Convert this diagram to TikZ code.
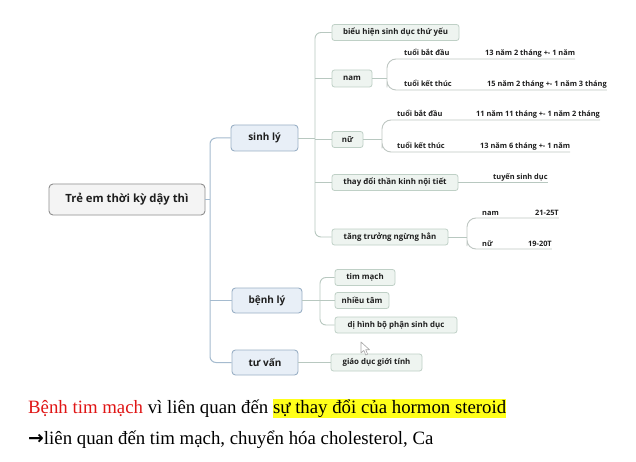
\documentclass[tikz,border=0pt]{standalone}
\usepackage{fontspec}
\setmainfont{Liberation Serif}
\newfontfamily\mapfont{Open Sans}
\newfontfamily\arrowfont{DejaVu Sans}
\usetikzlibrary{calc}
\definecolor{rootfill}{HTML}{F4F4F4}
\definecolor{rootdraw}{HTML}{8E8E8E}
\definecolor{mainfill}{HTML}{E8EFF7}
\definecolor{maindraw}{HTML}{9AB0C6}
\definecolor{subfill}{HTML}{EEF4F0}
\definecolor{subdraw}{HTML}{BFD0C6}
\definecolor{trunkline}{HTML}{A5BBCF}
\definecolor{subline}{HTML}{B8C8C0}
\definecolor{leafline}{HTML}{BFC7C3}
\definecolor{maptext}{HTML}{1E1E1E}
\definecolor{hlyellow}{HTML}{FFFF1A}
\definecolor{txtred}{HTML}{E01515}
\tikzset{
  rootbox/.style={draw=rootdraw, fill=rootfill, line width=0.9pt, rounded corners=4pt,
    inner sep=0pt, text=maptext, font=\mapfont\bfseries\fontsize{11.3}{13}\selectfont},
  mainbox/.style={draw=maindraw, fill=mainfill, line width=0.9pt, rounded corners=3.5pt,
    inner sep=0pt, minimum height=25pt, text=maptext, font=\mapfont\bfseries\fontsize{10}{12}\selectfont},
  subbox/.style={draw=subdraw, fill=subfill, line width=0.8pt, rounded corners=2.5pt,
    inner sep=0pt, minimum height=16pt, text=maptext, font=\mapfont\bfseries\fontsize{7.9}{9}\selectfont},
  leaf/.style={inner sep=0pt, anchor=base west, text=maptext, font=\mapfont\bfseries\fontsize{7.4}{8.5}\selectfont},
  trunk/.style={draw=trunkline, line width=1pt, rounded corners=6pt},
  subln/.style={draw=subline, line width=0.9pt, rounded corners=6pt},
  leafln/.style={draw=leafline, line width=0.9pt, rounded corners=9pt},
}
\begin{document}
\begin{tikzpicture}[x=1pt, y=-1pt]
\useasboundingbox (0,0) rectangle (636,462);
\fill[white] (0,0) rectangle (636,462);

% main nodes
\node[rootbox, minimum width=156pt, minimum height=31pt] (root) at (127,199.5) {Trẻ em thời kỳ dậy thì};
\node[mainbox, minimum width=67pt, minimum height=26pt] (sinhly) at (264.5,138) {sinh lý};
\node[mainbox, minimum width=70pt] (benhly) at (267,300.5) {bệnh lý};
\node[mainbox, minimum width=66pt] (tuvan) at (265,362.5) {tư vấn};

% sinh ly children
\node[subbox, minimum width=127pt] (bieuhien) at (395.5,32.5) {biểu hiện sinh dục thứ yếu};
\node[subbox, minimum width=40pt, minimum height=17pt] (nam) at (352,78.5) {nam};
\node[subbox, minimum width=31pt] (nu) at (347.5,139.5) {nữ};
\node[subbox, minimum width=126pt] (thaydoi) at (395,182.5) {thay đổi thần kinh nội tiết};
\node[subbox, minimum width=116pt] (tangtruong) at (390,237) {tăng trưởng ngừng hẳn};

% benh ly children
\node[subbox, minimum width=60pt] (timmach) at (365,277.5) {tim mạch};
\node[subbox, minimum width=54pt] (nhieutam) at (362,300.5) {nhiều tâm};
\node[subbox, minimum width=122pt] (dihinh) at (396,325) {dị hình bộ phận sinh dục};

% tu van child
\node[subbox, minimum width=91pt, minimum height=17pt] (giaoduc) at (376.5,362.5) {giáo dục giới tính};

% trunk
\coordinate (tr) at (210,199.5);
\draw[trunk] (root.east) -- (tr);
\draw[trunk] (sinhly.west) -| (tr) |- (tuvan.west);
\draw[trunk] (tr |- benhly.west) -- (benhly.west);

% sinh ly branch
\coordinate (sj) at (315,138);
\draw[subln] (sinhly.east) -- (sj);
\draw[subln] (bieuhien.west) -| (sj) |- (tangtruong.west);
\draw[subln] (sj |- nam.west) -- (nam.west);
\draw[subln] (sj |- nu.west) -- (nu.west);
\draw[subln] (sj |- thaydoi.west) -- (thaydoi.west);

% nam leaves
\node[leaf] (nmbd) at (404,56) {tuổi bắt đầu};
\node[leaf] (nmbdv) at (485,56) {13 năm 2 tháng +- 1 năm};
\node[leaf] (nmkt) at (404,87) {tuổi kết thúc};
\node[leaf] (nmktv) at (487,87) {15 năm 2 tháng +- 1 năm 3 tháng};
\coordinate (nj) at (387,78.5);
\draw[subln] (nam.east) -- (nj);
\draw[leafln] ([yshift=-3pt]nmbdv.base east) -| (nj) |- ([yshift=-3pt]nmktv.base east);

% nu leaves
\node[leaf] (nubd) at (397,117) {tuổi bắt đầu};
\node[leaf] (nubdv) at (476,117) {11 năm 11 tháng +- 1 năm 2 tháng};
\node[leaf] (nukt) at (397,149) {tuổi kết thúc};
\node[leaf] (nuktv) at (480,149) {13 năm 6 tháng +- 1 năm};
\coordinate (uj) at (382,139.5);
\draw[subln] (nu.east) -- (uj);
\draw[leafln] ([yshift=-3pt]nubdv.base east) -| (uj) |- ([yshift=-3pt]nuktv.base east);

% thay doi leaf
\node[leaf] (tsd) at (493,179.5) {tuyến sinh dục};
\draw[subln] (thaydoi.east) -- ([yshift=-3pt]tsd.base east);

% tang truong leaves
\node[leaf] (ttnam) at (482,215) {nam};
\node[leaf] (ttnamv) at (535,215) {21-25T};
\node[leaf] (ttnu) at (482,246) {nữ};
\node[leaf] (ttnuv) at (528,246) {19-20T};
\coordinate (tj) at (467,237);
\draw[subln] (tangtruong.east) -- (tj);
\draw[leafln] ([yshift=-3pt]ttnamv.base east) -| (tj) |- ([yshift=-3pt]ttnuv.base east);

% benh ly branch
\coordinate (bj) at (320,300.5);
\draw[subln] (benhly.east) -- (bj);
\draw[subln] (timmach.west) -| (bj) |- (dihinh.west);
\draw[subln] (bj) -- (nhieutam.west);

% tu van branch
\draw[subln] (tuvan.east) -- (giaoduc.west);

% mouse pointer
\draw[gray!70, fill=white, line width=0.6pt, line join=round]
  (361,342) -- (361,353) -- (363.8,350.4) -- (365.8,355) -- (367.6,354.2) -- (365.7,349.7) -- (369.5,349.7) -- cycle;

% bottom text
\node[anchor=base west, inner sep=0pt, font=\fontsize{18.8}{22}\selectfont] (line1) at (28,413)
  {\textcolor{txtred}{Bệnh tim mạch} vì liên quan đến {\setlength{\fboxsep}{0pt}\colorbox{hlyellow}{\rule[-5pt]{0pt}{19pt}sự thay đổi của hormon steroid}}};
\node[anchor=base west, inner sep=0pt, font=\fontsize{18.8}{22}\selectfont] (line2) at (28,444)
  {{\arrowfont\bfseries →}liên quan đến tim mạch, chuyển hóa cholesterol, Ca};
\end{tikzpicture}
\end{document}
